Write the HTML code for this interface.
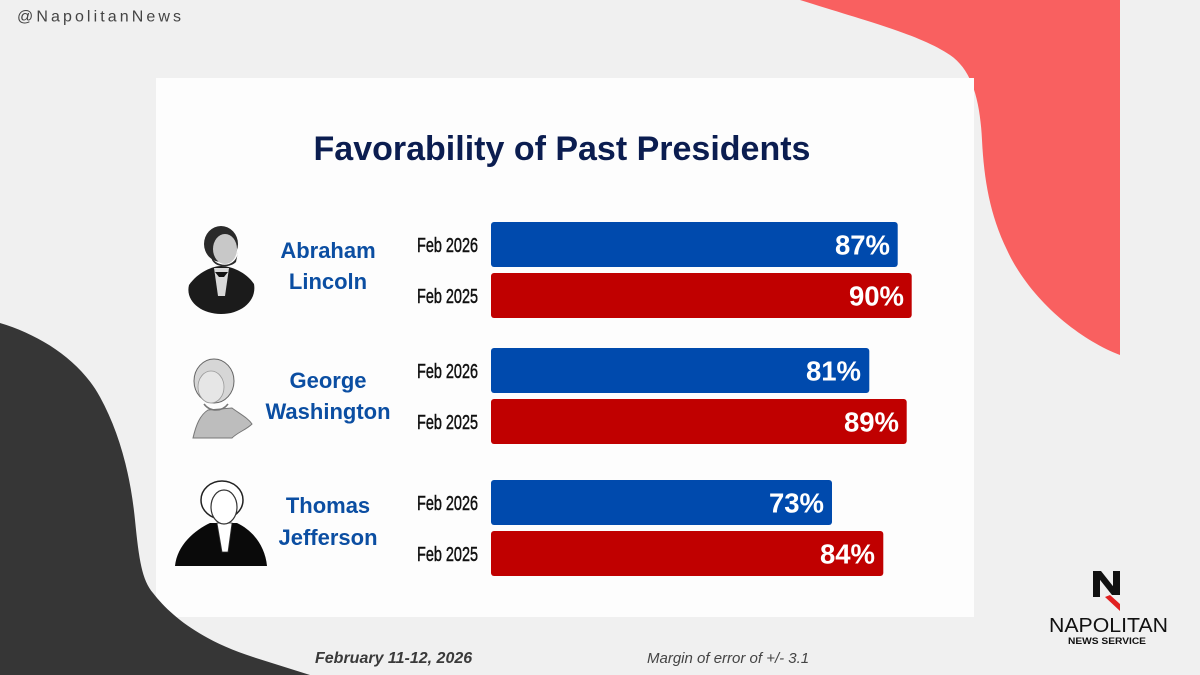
<!DOCTYPE html>
<html>
<head>
<meta charset="utf-8">
<style>
  html,body{margin:0;padding:0;background:#f0f0f0;}
  svg{display:block;}
  text{font-family:"Liberation Sans",Arial,sans-serif;}
</style>
</head>
<body>
<svg width="1200" height="675" viewBox="0 0 1200 675" xmlns="http://www.w3.org/2000/svg">
  <rect x="0" y="0" width="1200" height="675" fill="#f0f0f0"/>

  <!-- red blob -->
  <path d="M800,0 L1120,0 L1120,355 C1080,340 1030,300 1007,250 C990,215 984,180 982,140 C980,100 972,70 950,55 C920,35 870,22 800,0 Z" fill="#f96060"/>

  <!-- card -->
  <rect x="156" y="78" width="818" height="539" fill="#fdfdfd"/>

  <!-- dark blob -->
  <path d="M0,323 C40,335 80,360 100,397 C118,430 130,470 135,520 C139,560 142,580 153,593 C170,615 200,640 253,657 L310,675 L0,675 Z" fill="#363636"/>

  <!-- handle -->
  <text x="17" y="21.5" font-size="16" fill="#444" textLength="164" lengthAdjust="spacing">@NapolitanNews</text>

  <!-- title -->
  <text x="562" y="160" font-size="34" font-weight="bold" fill="#0b1d50" text-anchor="middle">Favorability of Past Presidents</text>

  <!-- Lincoln portrait -->
  <g>
    <path d="M189,285 C198,272 213,266 221,266 C231,266 246,272 254,284 C257,301 241,314 221,314 C201,314 185,301 189,285 Z" fill="#1b1b1b"/>
    <polygon points="214,268 229,268 225,296 218,296" fill="#d8d8d8"/>
    <polygon points="215,272 228,272 224,277 219,277" fill="#111"/>
    <ellipse cx="221" cy="244" rx="17" ry="18" fill="#2a2a2a"/>
    <ellipse cx="225" cy="249" rx="12" ry="15" fill="#c8c8c8"/>
    <path d="M210,252 C212,268 236,270 238,252 L236,262 C230,268 216,268 212,260 Z" fill="#2a2a2a"/>
  </g>

  <!-- Washington portrait -->
  <g>
    <path d="M193,438 C196,425 200,415 208,410 L232,408 C240,414 248,418 252,424 C246,430 238,432 232,438 Z" fill="#bdbdbd" stroke="#777" stroke-width="1"/>
    <ellipse cx="214" cy="381" rx="20" ry="22" fill="#d6d6d6" stroke="#666" stroke-width="1"/>
    <ellipse cx="211" cy="387" rx="13" ry="16" fill="#e6e6e6" stroke="#999" stroke-width="0.8"/>
    <path d="M204,404 C210,412 222,412 228,404" fill="none" stroke="#777" stroke-width="1.5"/>
  </g>

  <!-- Jefferson portrait -->
  <g>
    <path d="M175,566 C177,545 195,530 210,523 L237,523 C252,530 265,545 267,566 Z" fill="#0a0a0a"/>
    <polygon points="217,523 232,523 228,552 222,552" fill="#fff" stroke="#333" stroke-width="0.8"/>
    <ellipse cx="222" cy="500" rx="21" ry="19" fill="#fff" stroke="#222" stroke-width="1.5"/>
    <ellipse cx="224" cy="507" rx="13" ry="17" fill="#fff" stroke="#333" stroke-width="1.2"/>
  </g>

  <!-- names -->
  <g font-size="22" font-weight="bold" fill="#0b4ea2" text-anchor="middle">
    <text x="328" y="258">Abraham</text>
    <text x="328" y="289">Lincoln</text>
    <text x="328" y="388">George</text>
    <text x="328" y="419">Washington</text>
    <text x="328" y="513">Thomas</text>
    <text x="328" y="545">Jefferson</text>
  </g>

  <!-- date labels -->
  <g font-size="20.5" fill="#111" stroke="#111" stroke-width="0.5" text-anchor="end">
    <text x="478" y="252" textLength="61" lengthAdjust="spacingAndGlyphs">Feb 2026</text>
    <text x="478" y="303" textLength="61" lengthAdjust="spacingAndGlyphs">Feb 2025</text>
    <text x="478" y="378" textLength="61" lengthAdjust="spacingAndGlyphs">Feb 2026</text>
    <text x="478" y="429" textLength="61" lengthAdjust="spacingAndGlyphs">Feb 2025</text>
    <text x="478" y="510" textLength="61" lengthAdjust="spacingAndGlyphs">Feb 2026</text>
    <text x="478" y="561" textLength="61" lengthAdjust="spacingAndGlyphs">Feb 2025</text>
  </g>

  <!-- bars -->
  <rect x="491" y="222" width="406.7" height="45" rx="3" fill="#004aad"/>
  <rect x="491" y="273" width="420.7" height="45" rx="3" fill="#c00000"/>
  <rect x="491" y="348" width="378.3" height="45" rx="3" fill="#004aad"/>
  <rect x="491" y="399" width="415.7" height="45" rx="3" fill="#c00000"/>
  <rect x="491" y="480" width="341" height="45" rx="3" fill="#004aad"/>
  <rect x="491" y="531" width="392.3" height="45" rx="3" fill="#c00000"/>

  <!-- percent labels -->
  <g font-size="27.5" font-weight="bold" fill="#fff" text-anchor="end">
    <text x="890" y="254.5">87%</text>
    <text x="904" y="305.5">90%</text>
    <text x="861" y="380.5">81%</text>
    <text x="899" y="431.5">89%</text>
    <text x="824" y="512.5">73%</text>
    <text x="875" y="563.5">84%</text>
  </g>

  <!-- footer -->
  <text x="315" y="663" font-size="16" font-weight="bold" font-style="italic" fill="#3a3a3a">February 11-12, 2026</text>
  <text x="647" y="663" font-size="15" font-style="italic" fill="#444">Margin of error of +/- 3.1</text>

  <!-- logo -->
  <g>
    <rect x="1093" y="571" width="7" height="26" fill="#111"/>
    <rect x="1113" y="571" width="7" height="24" fill="#111"/>
    <polygon points="1093,571 1101,571 1120,595 1112,595" fill="#111"/>
    <polygon points="1105,597 1110,595 1120,604 1120,611" fill="#e02020"/>
    <text x="1049" y="632" font-size="20" fill="#111" textLength="119" lengthAdjust="spacingAndGlyphs">NAPOLITAN</text>
    <text x="1068" y="644" font-size="9.5" font-weight="bold" fill="#111" textLength="78" lengthAdjust="spacingAndGlyphs">NEWS SERVICE</text>
  </g>
</svg>
</body>
</html>
